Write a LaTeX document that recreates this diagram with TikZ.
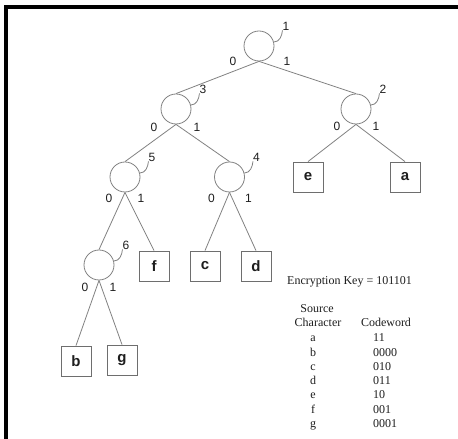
\documentclass[tikz,border=0pt]{standalone}
\usepackage{fontspec}
\setmainfont{Liberation Serif}
\newfontfamily\treefont{Liberation Sans}
\usetikzlibrary{calc}
\definecolor{edgegray}{RGB}{130,130,130}
\definecolor{boxgray}{RGB}{110,110,110}
\definecolor{inkgray}{RGB}{30,30,30}

\begin{document}
\begin{tikzpicture}[x=1pt,y=1pt,
    joint/.style={circle,draw=edgegray,line width=0.8pt,minimum size=30pt,inner sep=0pt},
    leafbox/.style={rectangle,draw=boxgray,line width=0.8pt,minimum size=30pt,inner sep=0pt,
      font=\treefont\bfseries\fontsize{15}{15}\selectfont,text=inkgray},
    tagnum/.style={inner sep=0pt,font=\treefont\fontsize{12}{12}\selectfont,text=inkgray},
    branch/.style={draw=edgegray,line width=0.8pt},
    tagline/.style={draw=edgegray,line width=0.8pt},
    tabtext/.style={inner sep=0pt,text height=8pt,text depth=2.5pt,
      font=\fontsize{12}{14}\selectfont,text=inkgray}]
    \useasboundingbox (0,0) rectangle (458,439);
    \fill[white] (0,0) rectangle (458,439);
    \draw[line width=3.5pt] (6,0) -- (6,432) -- (458,432);
    % tree
    \node[joint] (n1) at (259,393) {};
    \node[joint] (n3) at (176,330) {};
    \node[joint] (n2) at (356,330) {};
    \node[joint] (n5) at (125,262) {};
    \node[joint] (n4) at (229.5,262) {};
    \node[leafbox] (e) at (308,262) {e};
    \node[leafbox] (a) at (405,262) {a};
    \node[joint] (n6) at (99,174) {};
    \node[leafbox] (f) at (154,173) {f};
    \node[leafbox] (c) at (205,173) {c};
    \node[leafbox] (d) at (256,173) {d};
    \node[leafbox] (b) at (76,78) {b};
    \node[leafbox] (g) at (122,79) {g};
    \foreach \u/\v in {n1/n3,n1/n2,n3/n5,n3/n4,n2/e,n2/a,n5/n6,n5/f,n4/c,n4/d,n6/b,n6/g}
      \draw[branch] (\u.south) -- (\v.north);
    % node numbers with their hooks
    \foreach \n in {1,...,6}{
      \node[tagnum] (t\n) at ($(n\n)+(27,20)$) {\n};
      \draw[tagline] (n\n.15) to[out=0,in=-95] (t\n.south west);
    }
    % bits on the branches
    \foreach \n/\l/\r/\dy in {1/26/28/15,3/22/21/18,2/19/20/17,5/16/16/21,4/18/19/21,6/14/14/22}{
      \node[tagnum] (z\n) at ($(n\n)+(-\l,-\dy)$) {0};
      \node[tagnum] (o\n) at ($(n\n)+(\r,-\dy)$) {1};
    }
    % key and code table
    \node[tabtext,anchor=west] (key) at (287,157) {Encryption Key = 101101};
    \node[tabtext] (src) at (317,129) {Source};
    \node[tabtext] (chr) at (318,115) {Character};
    \node[tabtext] (cw) at (386,115) {Codeword};
    \foreach \ch/\code [count=\i from 0] in {a/11,b/0000,c/010,d/011,e/10,f/001,g/0001}{
      \node[tabtext] (ch\ch) at (313,{100-14.3*\i}) {\ch};
      \node[tabtext,anchor=west] (cw\ch) at (373,{100-14.3*\i}) {\code};
    }
  \end{tikzpicture}
\end{document}
